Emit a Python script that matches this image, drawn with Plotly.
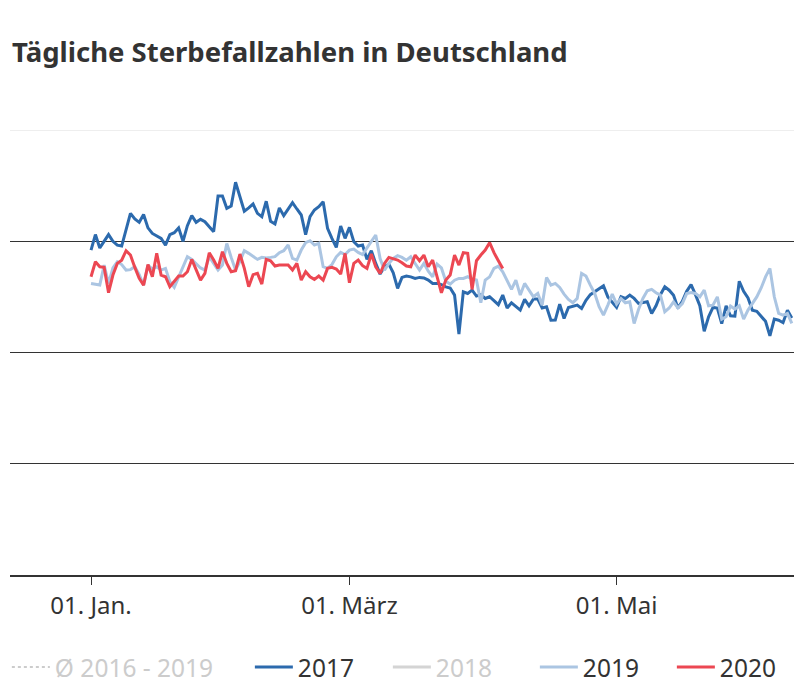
import pandas as pd
import plotly.graph_objects as go

# Daily deaths, index 0 = 01. Jan.
deaths_2017 = [
    2921, 3060, 2940, 3000, 3060, 3000, 2965, 2957, 3100, 3250,
    3200, 3170, 3240, 3120, 3070, 3050, 3025, 2965, 3060, 3077,
    3120, 3000, 3140, 3230, 3170, 3197, 3176, 3130, 3086, 3407,
    3407, 3296, 3317, 3530, 3410, 3270, 3300, 3335, 3251, 3221,
    3360, 3180, 3155, 3300, 3230, 3290, 3347, 3290, 3236, 3060,
    3221, 3281, 3311, 3356, 3116, 3026, 2945, 3137, 3026, 3125,
    2996, 2957, 2966, 2837, 2915, 2801, 2705, 2771, 2795, 2717,
    2576, 2675, 2687, 2680, 2666, 2675, 2670, 2651, 2621, 2621,
    2610, 2590, 2580, 2516, 2165, 2546, 2531, 2561, 2507, 2520,
    2486, 2501, 2465, 2430, 2516, 2400, 2447, 2410, 2381, 2477,
    2420, 2480, 2480, 2400, 2411, 2290, 2291, 2435, 2306, 2405,
    2415, 2426, 2396, 2470, 2520, 2546, 2576, 2600, 2500, 2456,
    2405, 2501, 2486, 2516, 2486, 2441, 2447, 2456, 2350, 2420,
    2520, 2591, 2560, 2515, 2400, 2460, 2550, 2610, 2520, 2420,
    2190, 2320, 2405, 2400, 2260, 2420, 2330, 2327, 2640, 2550,
    2490, 2380, 2370, 2325, 2280, 2150, 2300, 2290, 2268, 2380,
    2310,
]

deaths_2019 = [
    2621, 2615, 2606, 2786, 2620, 2760, 2816, 2790, 2741, 2745,
    2771, 2700, 2606, 2786, 2750, 2771, 2741, 2756, 2636, 2585,
    2681, 2771, 2861, 2837, 2801, 2760, 2741, 2861, 2800, 2741,
    2786, 2980, 2855, 2741, 2820, 2915, 2891, 2867, 2837, 2855,
    2850, 2855, 2861, 2897, 2915, 2966, 2846, 2831, 2921, 2987,
    3005, 2966, 2981, 2771, 2756, 2790, 2860, 2900, 2880, 2920,
    2930, 2900, 2880, 2940, 3000, 3056, 2845, 2740, 2800, 2846,
    2870, 2855, 2830, 2861, 2800, 2741, 2801, 2730, 2680, 2795,
    2760, 2640, 2615, 2650, 2666, 2666, 2681, 2660, 2651, 2447,
    2651, 2680, 2756, 2777, 2726, 2651, 2567, 2651, 2516, 2621,
    2555, 2501, 2531, 2426, 2675, 2606, 2621, 2585, 2525, 2477,
    2447, 2486, 2711, 2687, 2606, 2531, 2411, 2336, 2426, 2525,
    2435, 2486, 2447, 2456, 2261, 2387, 2486, 2555, 2567, 2537,
    2516, 2366, 2400, 2456, 2400, 2440, 2530, 2540, 2531, 2501,
    2560, 2420, 2426, 2500, 2300, 2321, 2417, 2390, 2420, 2300,
    2381, 2440, 2500, 2580, 2680, 2756, 2501, 2351, 2336, 2351,
    2261,
]

deaths_2020 = [
    2681, 2816, 2771, 2765, 2537, 2696, 2801, 2830, 2915, 2876,
    2765, 2666, 2606, 2790, 2681, 2891, 2696, 2681, 2591, 2636,
    2687, 2687, 2726, 2837, 2747, 2651, 2711, 2897, 2831, 2756,
    2906, 2801, 2726, 2735, 2885, 2756, 2591, 2700, 2711, 2615,
    2837, 2825, 2777, 2786, 2786, 2786, 2741, 2801, 2651, 2726,
    2680, 2657, 2687, 2651, 2756, 2765, 2750, 2705, 2891, 2627,
    2801, 2831, 2780, 2756, 2885, 2771, 2710, 2800, 2855, 2845,
    2831, 2807, 2777, 2771, 2876, 2825, 2876, 2771, 2831, 2681,
    2537, 2651, 2696, 2876, 2786, 2897, 2891, 2567, 2825, 2876,
    2921, 2987, 2897, 2825, 2756,
]

# series switched off in the legend (no visible data)
deaths_2018 = [None]
avg_2016_2019 = [None]

tick_dates = ["2019-01-01", "2019-03-01", "2019-05-01"]
tick_labels = ["01. Jan.", "01. März", "01. Mai"]
y_grid = [1000, 2000, 3000]

base = pd.Timestamp("2019-01-01")


def days(vals):
    return pd.date_range(base, periods=len(vals), freq="D")


FONT = "Noto Sans, Open Sans, sans-serif"
OFF = "#cccccc"

fig = go.Figure()
fig.add_trace(go.Scatter(
    x=days(avg_2016_2019), y=avg_2016_2019, mode="lines",
    name=f"<span style='color:{OFF}'>Ø 2016 - 2019</span>", legendwidth=190,
    line=dict(color=OFF, width=2, dash="dot")))
fig.add_trace(go.Scatter(
    x=days(deaths_2017), y=deaths_2017, mode="lines", name="2017", legendwidth=85,
    line=dict(color="#2c6aad", width=3)))
fig.add_trace(go.Scatter(
    x=days(deaths_2018), y=deaths_2018, mode="lines",
    name=f"<span style='color:{OFF}'>2018</span>", legendwidth=94,
    line=dict(color="#d4d4d4", width=3)))
fig.add_trace(go.Scatter(
    x=days(deaths_2019), y=deaths_2019, mode="lines", name="2019", legendwidth=84,
    line=dict(color="#abc5e2", width=3)))
fig.add_trace(go.Scatter(
    x=days(deaths_2020), y=deaths_2020, mode="lines", name="2020",
    line=dict(color="#ec4752", width=3)))

fig.add_shape(type="line", xref="paper", x0=0, x1=1, yref="y", y0=4000, y1=4000,
              line=dict(color="#dddddd", width=1), layer="below")

fig.update_layout(
    width=794, height=700,
    margin=dict(l=10, r=0, t=130, b=125),
    paper_bgcolor="white", plot_bgcolor="white",
    font=dict(family=FONT, color="#333333"),
    title=dict(text="<b>Tägliche Sterbefallzahlen in Deutschland</b>",
               x=12 / 794, xanchor="left", xref="container",
               y=1 - 52 / 700, yanchor="middle", yref="container",
               font=dict(size=27.5, color="#333333", family=FONT)),
    showlegend=True,
    legend=dict(orientation="h", x=-0.004, xanchor="left", y=-0.207, yanchor="middle",
                font=dict(size=24.5, color="#333333", family=FONT),
                itemwidth=38,
                itemclick=False, itemdoubleclick=False),
    xaxis=dict(
        type="date",
        range=["2018-12-13 12:00", "2019-06-10 12:00"],
        tickvals=tick_dates, ticktext=tick_labels,
        ticks="outside", ticklen=8, tickwidth=1, tickcolor="#333333",
        showline=True, linecolor="#333333", linewidth=2,
        showgrid=False, zeroline=False,
        tickfont=dict(size=24, color="#333333", family=FONT),
    ),
    yaxis=dict(
        range=[0, 4000], tickvals=y_grid, showticklabels=False,
        showgrid=True, gridcolor="#333333", gridwidth=1,
        zeroline=False, showline=False, fixedrange=True,
    ),
    hovermode=False,
)

# remove the default 8px page margin so the 794x700 figure fills the window
fig.write_html(
    "out.html",
    config={"displayModeBar": False},
    post_script="document.body.style.margin='0px';document.body.style.overflow='hidden';",
)
